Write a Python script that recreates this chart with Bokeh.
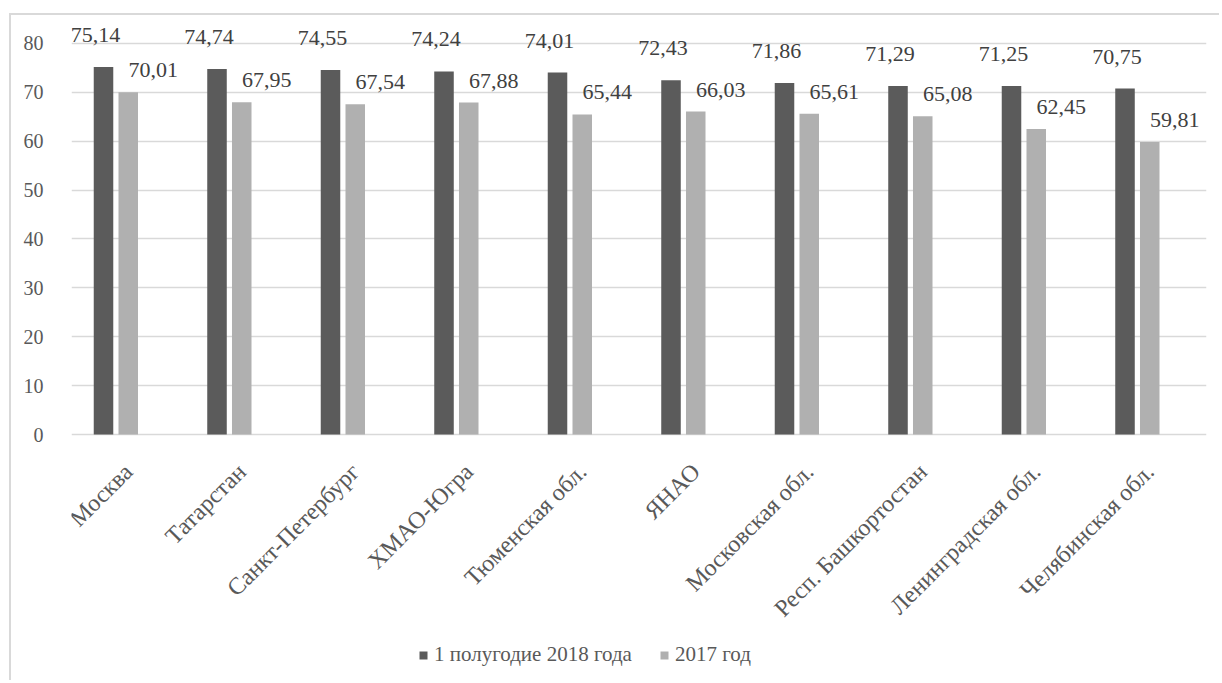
import numpy as np
from bokeh.plotting import figure
from bokeh.models import (ColumnDataSource, Range1d, FixedTicker, LabelSet,
                          Legend, LegendItem)
from bokeh.core.properties import value
from bokeh.embed import file_html
from bokeh.resources import INLINE
import math

categories = ["Москва", "Татарстан", "Санкт-Петербург", "ХМАО-Югра",
              "Тюменская обл.", "ЯНАО", "Московская обл.",
              "Респ. Башкортостан", "Ленинградская обл.", "Челябинская обл."]
h2018 = [75.14, 74.74, 74.55, 74.24, 74.01, 72.43, 71.86, 71.29, 71.25, 70.75]
y2017 = [70.01, 67.95, 67.54, 67.88, 65.44, 66.03, 65.61, 65.08, 62.45, 59.81]
series_names = ["1 полугодие 2018 года", "2017 год"]
y_ticks = [0, 10, 20, 30, 40, 50, 60, 70, 80]

DARK = "#5b5b5b"
LIGHT = "#b0b0b0"
GRID = "#d9d9d9"
FONT = "Liberation Serif"
PX_PER_UNIT = 4.89

idx = np.arange(len(categories))
fmt = lambda v: f"{v:.2f}".replace(".", ",")

src_a = ColumnDataSource(dict(x=idx - 0.218, y=h2018, t=[fmt(v) for v in h2018]))
src_b = ColumnDataSource(dict(x=idx + 0.0, y=y2017, t=[fmt(v) for v in y2017]))
src_c = ColumnDataSource(dict(x=idx - 0.08, y=np.full(len(idx), -24 / PX_PER_UNIT),
                              t=categories))

p = figure(width=1210, height=667, output_backend="svg", toolbar_location=None,
           x_range=Range1d(-0.5, 9.5),
           y_range=Range1d(-248 / PX_PER_UNIT, 418 / PX_PER_UNIT),
           min_border_left=60, min_border_right=15, min_border_top=1,
           min_border_bottom=0)
p.outline_line_color = None
p.background_fill_color = "white"
p.border_fill_color = "white"
p.styles = {"margin-left": "9px", "margin-top": "13px",
            "border-left": "2px solid #d9d9d9", "border-top": "2px solid #d9d9d9"}

r1 = p.vbar(x="x", top="y", width=0.172, source=src_a, fill_color=DARK, line_color=None)
r2 = p.vbar(x="x", top="y", width=0.172, source=src_b, fill_color=LIGHT, line_color=None)

p.add_layout(LabelSet(x="x", y="y", text="t", source=src_a, x_offset=-8, y_offset=32,
                      text_align="center", text_baseline="middle",
                      text_font=FONT, text_font_size="22px", text_color="#404040"))
p.add_layout(LabelSet(x="x", y="y", text="t", source=src_b, x_offset=25, y_offset=22,
                      text_align="center", text_baseline="middle",
                      text_font=FONT, text_font_size="22px", text_color="#404040"))

# category labels (rotated)
p.text(x="x", y="y", text="t", source=src_c, angle=math.pi / 4,
       text_align="right", text_baseline="top",
       text_font=value(FONT), text_font_size="24px", text_color="#595959")

# grid
p.xgrid.grid_line_color = None
p.ygrid.ticker = FixedTicker(ticks=y_ticks)
p.ygrid.grid_line_color = GRID
p.ygrid.grid_line_width = 1.5

# y axis
p.yaxis.ticker = FixedTicker(ticks=y_ticks)
p.yaxis.axis_line_color = None
p.yaxis.major_tick_line_color = None
p.yaxis.minor_tick_line_color = None
p.yaxis.major_label_standoff = 22
p.yaxis.major_label_text_font = FONT
p.yaxis.major_label_text_font_size = "20px"
p.yaxis.major_label_text_color = "#595959"

p.xaxis.visible = False

legend = Legend(items=[LegendItem(label=series_names[0], renderers=[r1]),
                       LegendItem(label=series_names[1], renderers=[r2])],
                orientation="horizontal", location=(347, 15),
                glyph_width=10, glyph_height=10, label_standoff=6, spacing=27,
                padding=0, margin=0, border_line_color=None,
                background_fill_alpha=0,
                label_text_font=FONT, label_text_font_size="21px",
                label_text_color="#595959")
p.add_layout(legend, "center")

open("out.html", "w").write(file_html(p, INLINE))
